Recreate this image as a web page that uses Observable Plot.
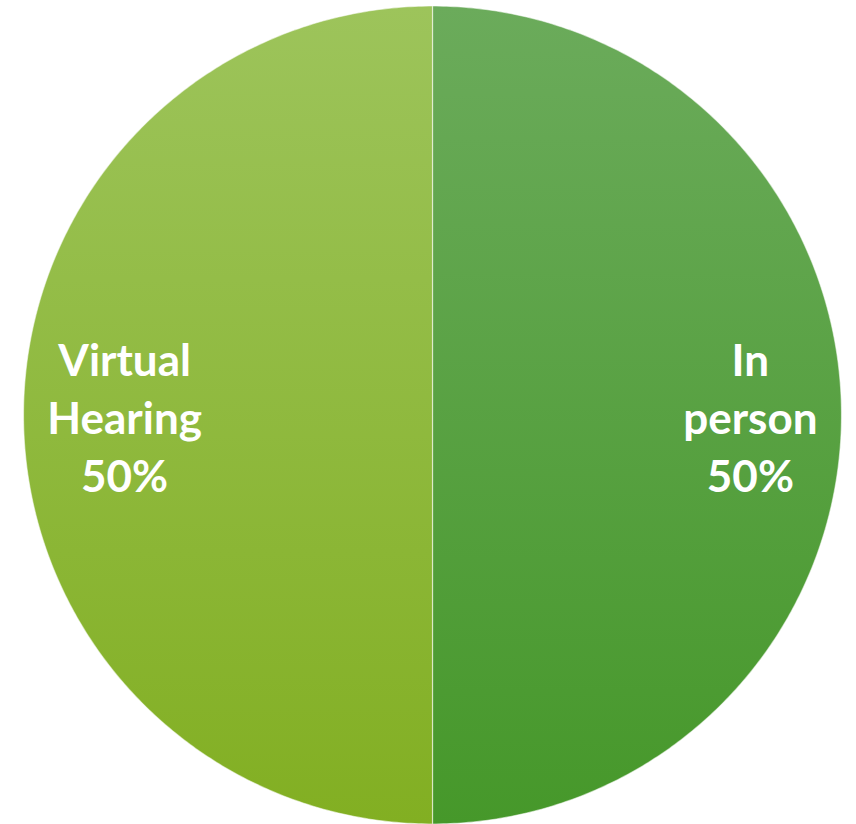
<!DOCTYPE html>
<html>
<head>
<meta charset="utf-8">
<script src="https://cdn.jsdelivr.net/npm/d3@7"></script>
<script src="https://cdn.jsdelivr.net/npm/@observablehq/plot@0.6"></script>
<style>
  html, body { margin: 0; padding: 0; background: #ffffff; }
  #chart svg { display: block; }
</style>
</head>
<body>
<div id="chart"></div>
<script>
const categories = ["In person", "Virtual Hearing"];
const values = [50, 50];
const labelLines = [["In", "person"], ["Virtual", "Hearing"]];
const gradientTop = ["#6bab5b", "#9dc45b"];
const gradientBottom = ["#46982a", "#82af22"];

const total = d3.sum(values);
const pie = d3.pie().sort(null).value(d => d.value);
const arcs = pie(categories.map((c, i) => ({category: c, value: values[i], i})));

// build slice polygons (unit circle coordinates, y up, angle from top clockwise)
function slicePoints(a0, a1) {
  const n = Math.max(2, Math.ceil((a1 - a0) / (Math.PI / 360)));
  const pts = [{x: 0, y: 0}];
  for (let k = 0; k <= n; k++) {
    const a = a0 + (a1 - a0) * k / n;
    pts.push({x: Math.sin(a), y: Math.cos(a)});
  }
  pts.push({x: 0, y: 0});
  return pts;
}

const labels = arcs.map(a => {
  const mid = (a.startAngle + a.endAngle) / 2;
  const r = 0.765;
  const pct = Math.round(a.data.value / total * 100) + "%";
  return {
    x: Math.sin(mid) * r,
    y: Math.cos(mid) * r,
    text: [...labelLines[a.data.i], pct].join("\n")
  };
});

function defs() {
  const ns = "http://www.w3.org/2000/svg";
  const d = document.createElementNS(ns, "defs");
  categories.forEach((c, i) => {
    const g = document.createElementNS(ns, "linearGradient");
    g.setAttribute("id", "grad" + i);
    g.setAttribute("x1", "0"); g.setAttribute("y1", "0");
    g.setAttribute("x2", "0"); g.setAttribute("y2", "1");
    const s0 = document.createElementNS(ns, "stop");
    s0.setAttribute("offset", "0"); s0.setAttribute("stop-color", gradientTop[i]);
    const s1 = document.createElementNS(ns, "stop");
    s1.setAttribute("offset", "1"); s1.setAttribute("stop-color", gradientBottom[i]);
    g.appendChild(s0); g.appendChild(s1);
    d.appendChild(g);
  });
  return d;
}

const cx = 432, cy = 414.5, R = 409;

const chart = Plot.plot({
  width: 856,
  height: 824,
  margin: 0,
  x: {domain: [-1, 1], range: [cx - R, cx + R], axis: null},
  y: {domain: [-1, 1], range: [cy + R, cy - R], axis: null},
  style: {background: "#ffffff"},
  marks: [
    defs,
    ...arcs.map((a, i) => Plot.line(slicePoints(a.startAngle, a.endAngle), {
      x: "x", y: "y",
      fill: `url(#grad${i})`,
      stroke: "#ffffff",
      strokeOpacity: 0.55,
      strokeWidth: 1.2
    })),
    Plot.text(labels, {
      x: "x", y: "y", text: "text",
      dx: 5,
      fill: "#ffffff",
      fontSize: 44,
      fontWeight: "bold",
      fontFamily: "Lato, 'Open Sans', sans-serif",
      lineHeight: 58 / 44,
      textAnchor: "middle"
    })
  ]
});

document.getElementById("chart").appendChild(chart);
</script>
</body>
</html>
